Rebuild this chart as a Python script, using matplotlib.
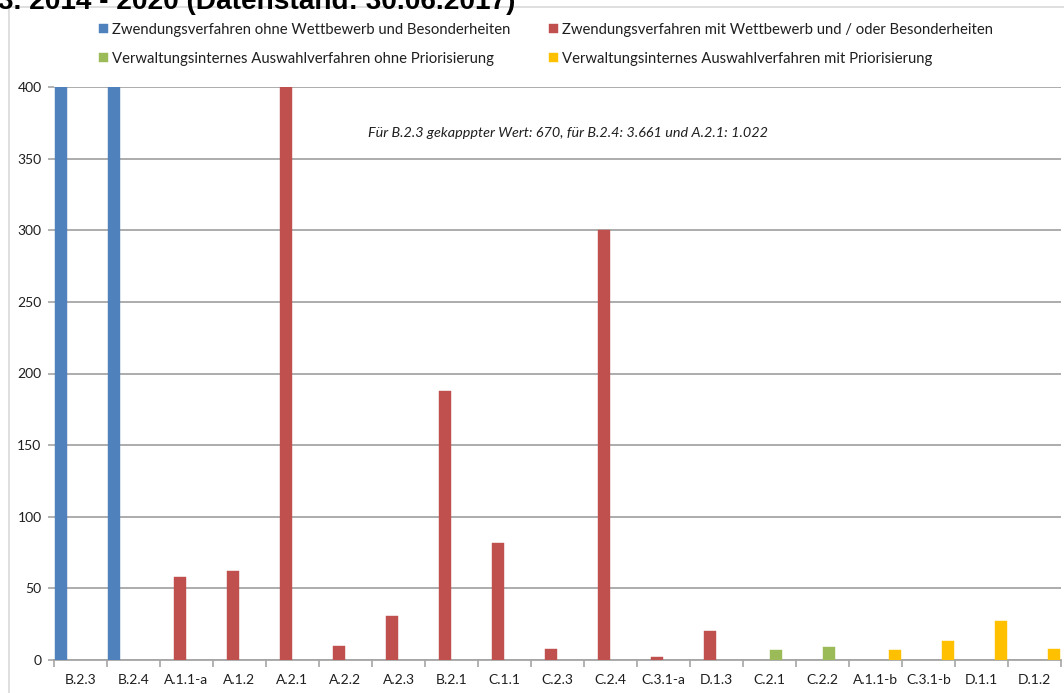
import numpy as np
import matplotlib
matplotlib.use("Agg")
import matplotlib.pyplot as plt
from matplotlib.patches import Rectangle

plt.rcParams['font.family'] = ['Lato', 'DejaVu Sans']

# Maßnahmen (Kategorien) und Anzahl je Maßnahme
categories = ["B.2.3", "B.2.4", "A.1.1-a", "A.1.2", "A.2.1", "A.2.2", "A.2.3",
              "B.2.1", "C.1.1", "C.2.3", "C.2.4", "C.3.1-a", "D.1.3", "C.2.1",
              "C.2.2", "A.1.1-b", "C.3.1-b", "D.1.1", "D.1.2"]
values = [670, 3661, 58, 62, 1022, 10, 31, 188, 82, 8, 300, 2, 20, 7, 9, 7, 13, 27, 8]
# Zuordnung jeder Maßnahme zu einem Verfahrenstyp (Index in series_names)
series_of = [0, 0, 1, 1, 1, 1, 1, 1, 1, 1, 1, 1, 1, 2, 2, 3, 3, 3, 3]

series_names = [
    "Zwendungsverfahren ohne Wettbewerb und Besonderheiten",
    "Zwendungsverfahren mit Wettbewerb und / oder Besonderheiten",
    "Verwaltungsinternes Auswahlverfahren ohne Priorisierung",
    "Verwaltungsinternes Auswahlverfahren mit Priorisierung",
]
series_colors = ["#4F81BD", "#C0504D", "#9BBB59", "#FFC000"]

y_max = 400
y_ticks = [0, 50, 100, 150, 200, 250, 300, 350, 400]

W, H = 1064, 693
fig = plt.figure(figsize=(W / 100, H / 100), dpi=100)

# Rahmen des Diagrammbereichs
fig.patches.append(Rectangle((9 / W, -0.1), 2.0, 1 - 7 / H + 0.1,
                             transform=fig.transFigure, fill=False,
                             edgecolor="#d9d9d9", linewidth=1.2))

# Titel (oben angeschnitten)
fig.text(-2 / W, 1 - 9 / H, "3. 2014 - 2020 (Datenstand: 30.06.2017)",
         family="Liberation Sans", weight="bold", fontsize=20.2,
         ha="left", va="baseline", color="black")

left, right, top, bottom = 54, 1061, 87, 660
ax = fig.add_axes([left / W, 1 - bottom / H, (right - left) / W, (bottom - top) / H])

vals = np.array(values, dtype=float)
grp = np.array(series_of)
idx = np.arange(len(categories))
slot = 0.25
handles = []
for s, (name, col) in enumerate(zip(series_names, series_colors)):
    m = grp == s
    h = ax.bar(idx[m] - 0.5 + slot / 2 + slot * s, vals[m], width=0.23,
               color=col, edgecolor=col, linewidth=0.3, label=name, zorder=3)
    handles.append(h)

ax.set_xlim(-0.5, len(categories) - 0.5)
ax.set_ylim(0, y_max)
ax.set_yticks(y_ticks)
ax.yaxis.grid(True, color="#a6a6a6", linewidth=1.3, zorder=0)
ax.set_axisbelow(True)
for sp in ["left", "right", "top"]:
    ax.spines[sp].set_visible(False)
ax.spines["bottom"].set_color("#a6a6a6")
ax.spines["bottom"].set_linewidth(1.3)

ax.set_xticks(idx)
ax.set_xticklabels(categories)
ax.set_xticks(np.arange(-0.5, len(categories)), minor=True)
ax.tick_params(axis="x", which="major", length=0, pad=10, labelsize=10, labelcolor="#1f1f1f")
ax.tick_params(axis="x", which="minor", length=5, color="#a6a6a6", width=1.2)
ax.tick_params(axis="y", length=4, color="#a6a6a6", width=1.2, pad=5,
               labelsize=10, labelcolor="#1f1f1f")

# Hinweis zu den gekappten Werten
def de_num(v):
    return f"{int(v):,}".replace(",", ".")

note = (f"Für {categories[0]} gekapppter Wert: {de_num(values[0])}, "
        f"für {categories[1]}: {de_num(values[1])} und "
        f"{categories[4]}: {de_num(values[4])}")
fig.text(368 / W, 1 - 133 / H, note, style="italic", fontsize=10.4,
         ha="left", va="center", color="#1f1f1f")

# Legende: Zeile 1 blau/rot, Zeile 2 grün/gelb
order = [0, 2, 1, 3]
leg = fig.legend([handles[i] for i in order], [series_names[i] for i in order],
                 ncol=2, loc="upper left", bbox_to_anchor=(99 / W, 1 - 23 / H),
                 frameon=False, fontsize=10.7, handlelength=0.6, handleheight=0.6,
                 handletextpad=0.3, labelspacing=1.0, columnspacing=2.55,
                 borderpad=0, borderaxespad=0)
for t in leg.get_texts():
    t.set_color("#1f1f1f")

fig.savefig("out.png", dpi=100)
